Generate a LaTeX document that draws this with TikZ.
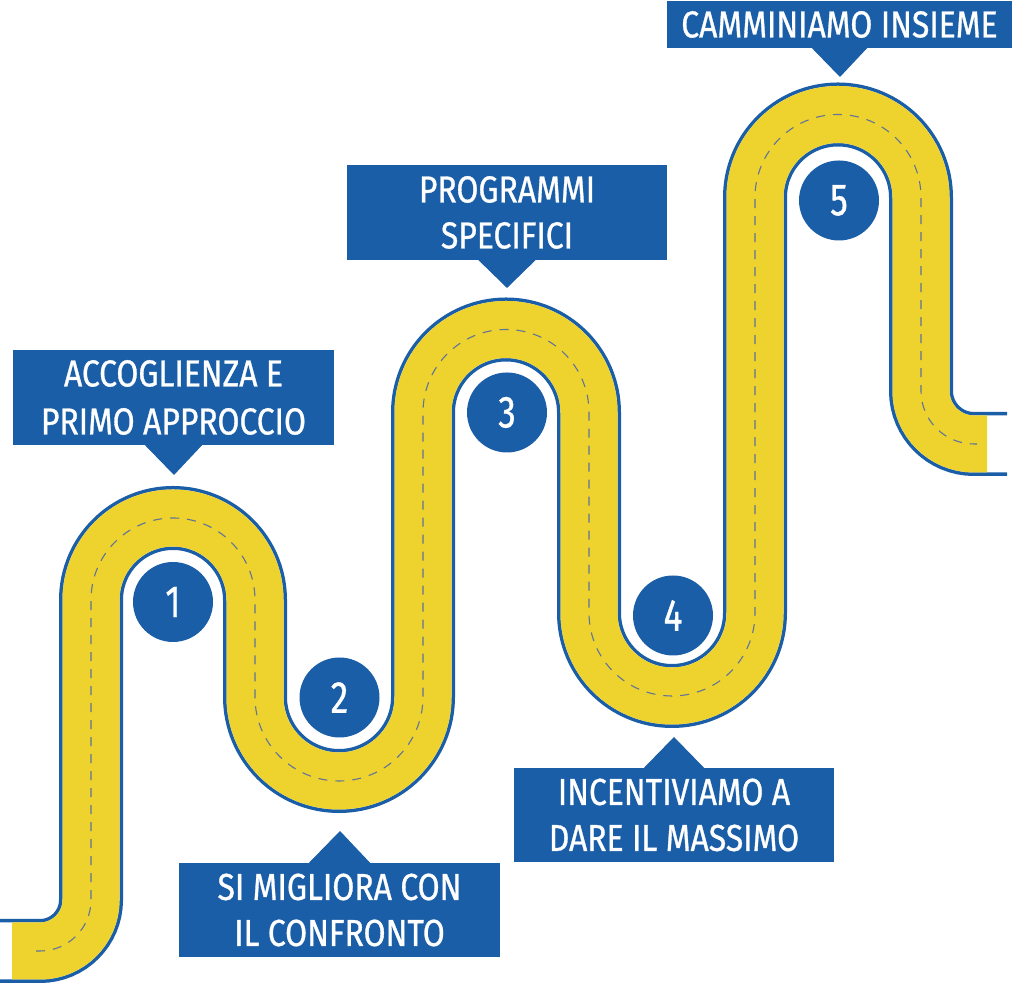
\documentclass[tikz,border=0pt]{standalone}
\usepackage{fontspec}
\newfontfamily\condfont[FakeStretch=0.85,FakeBold=0.8]{Fira Sans}
\newfontfamily\digitfont[FakeStretch=0.78,FakeBold=0.8]{Fira Sans}
\usetikzlibrary{calc}
\definecolor{roadblue}{RGB}{26,94,168}
\definecolor{roadyellow}{RGB}{238,210,46}
\definecolor{dashcol}{RGB}{95,115,155}
\newcommand\roadline[2]{(#1,33) -- (40,33) arc[start angle=-90,end angle=0,radius=51] -- (91,384) arc[start angle=180,end angle=0,radius=82] -- (255,287) arc[start angle=180,end angle=360,radius=84] -- (423,571.5) arc[start angle=180,end angle=0,radius=83] -- (589,371) arc[start angle=180,end angle=360,radius=83] -- (755,786.5) arc[start angle=180,end angle=0,radius=83] -- (921,593) arc[start angle=180,end angle=270,radius=53] -- (#2,540)}
\tikzset{
  callout/.style={fill=roadblue, inner sep=0pt, text=white, align=center,
    font=\condfont\fontsize{37.5}{46}\selectfont},
  numdot/.style={circle, fill=roadblue, minimum size=80pt, inner sep=0pt, text=white,
    font=\digitfont\fontsize{45}{45}\selectfont},
}
\begin{document}
\begin{tikzpicture}[x=1pt,y=1pt]
\useasboundingbox (0,0) rectangle (1013,984);
% road
\draw[roadblue, line width=64pt] \roadline{0}{1007};
\draw[white, line width=57pt] \roadline{-5}{1020};
\draw[roadyellow, line width=57pt] \roadline{12}{987};
\draw[dashcol, line width=1.1pt, dash pattern=on 9pt off 8pt] \roadline{36}{977};
% numbered circles
\node[numdot] (c1) at (173,382) {1};
\node[numdot] (c2) at (339.5,286.5) {2};
\node[numdot] (c3) at (507,571.5) {3};
\node[numdot] (c4) at (673,368.5) {4};
\node[numdot] (c5) at (839,783.5) {5};
% callouts
\node[callout, minimum width=321pt, minimum height=95pt, font=\condfont\fontsize{37.5}{48}\selectfont] (b1) at (173.5,586.5) {ACCOGLIENZA E\\PRIMO APPROCCIO};
\node[callout, minimum width=321pt, minimum height=94pt] (b2) at (339.5,74) {SI MIGLIORA CON\\IL CONFRONTO};
\node[callout, minimum width=320pt, minimum height=95pt] (b3) at (507,771.5) {PROGRAMMI\\SPECIFICI};
\node[callout, minimum width=320pt, minimum height=94pt] (b4) at (674,169) {INCENTIVIAMO A\\DARE IL MASSIMO};
\node[callout, minimum width=345pt, minimum height=47pt] (b5) at (839.5,959.5) {CAMMINIAMO INSIEME};
% pointers
\coordinate (a1) at (174,509);
\coordinate (a2) at (340,153);
\coordinate (a3) at (507,696);
\coordinate (a4) at (674,247);
\coordinate (a5) at (840,907);
\fill[roadblue] ($(b1.south)+(-29.5,1)$) -- ($(b1.south)+(29.5,1)$) -- (a1) -- cycle;
\fill[roadblue] ($(b2.north)+(-31.5,-1)$) -- ($(b2.north)+(31.5,-1)$) -- (a2) -- cycle;
\fill[roadblue] ($(b3.south)+(-29.5,1)$) -- ($(b3.south)+(29.5,1)$) -- (a3) -- cycle;
\fill[roadblue] ($(b4.north)+(-31,-1)$) -- ($(b4.north)+(31,-1)$) -- (a4) -- cycle;
\fill[roadblue] ($(b5.south)+(-28.5,1)$) -- ($(b5.south)+(28.5,1)$) -- (a5) -- cycle;
\end{tikzpicture}
\end{document}
